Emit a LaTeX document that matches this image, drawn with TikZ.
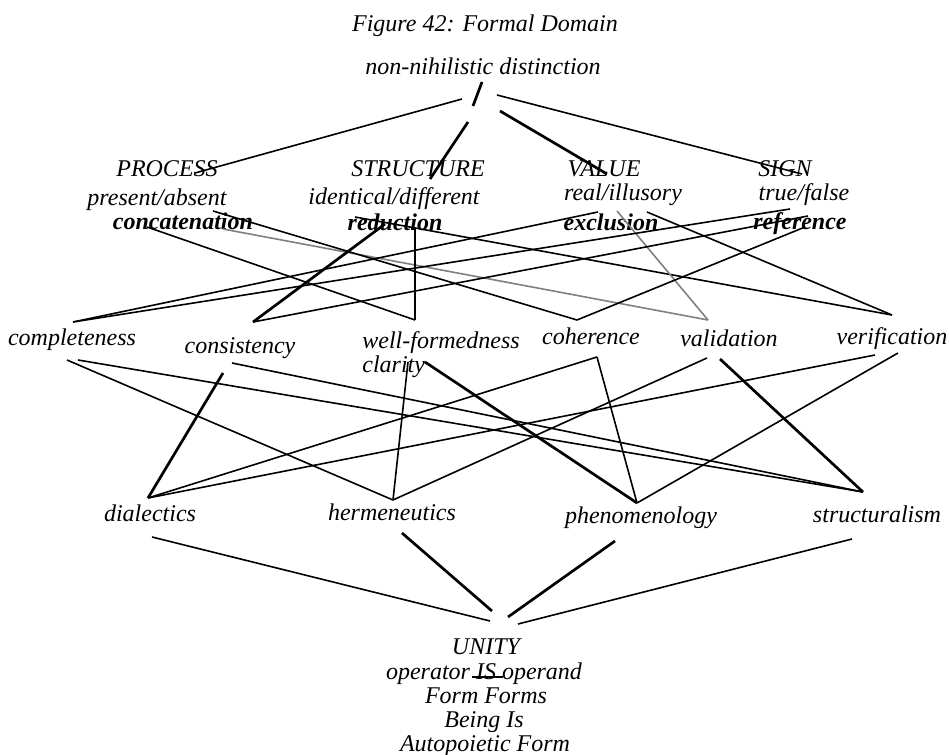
\documentclass[tikz,border=0pt]{standalone}
\usepackage{fontspec}
\setmainfont{Liberation Serif}
\begin{document}
\begin{tikzpicture}[x=0.5pt,y=-0.5pt,
  lbl/.style={inner sep=0pt, anchor=base, font=\fontsize{12}{14}\selectfont\itshape},
  lbll/.style={inner sep=0pt, anchor=base west, font=\fontsize{12}{14}\selectfont\itshape},
  bld/.style={inner sep=0pt, anchor=base, font=\fontsize{12}{14}\selectfont\bfseries\itshape},
  lnk/.style={line width=0.8pt},
  lnkb/.style={line width=1.35pt},
  lnkg/.style={line width=0.8pt, draw=black!50}]
\useasboundingbox (0,0) rectangle (949,755);

% ---- labels ----
\node[lbl] (title) at (485,32) {Figure 42: Formal Domain};
\node[lbl] (nnd) at (483,74) {non-nihilistic distinction};

\node[lbl] (process) at (167,176) {PROCESS};
\node[lbl] (structure) at (418,176) {STRUCTURE};
\node[lbl] (value) at (604,176) {VALUE};
\node[lbl] (sign) at (785,176) {SIGN};

\node[lbl] (present) at (157,205) {present/absent};
\node[lbl] (identical) at (394,204) {identical/different};
\node[lbl] (real) at (623,200) {real/illusory};
\node[lbl] (true) at (804,200) {true/false};

\node[bld] (concat) at (183,229) {concatenation};
\node[bld] (reduct) at (395,230) {reduction};
\node[bld] (exclus) at (611,230) {exclusion};
\node[bld] (refer) at (800,229) {reference};

\node[lbl] (complete) at (72,345) {completeness};
\node[lbl] (consist) at (240,353) {consistency};
\node[lbll] (wellf) at (362,348) {well-formedness};
\node[lbll] (clarity) at (362,372) {clarity};
\node[lbl] (coher) at (591,344) {coherence};
\node[lbl] (valid) at (729,346) {validation};
\node[lbl] (verif) at (892,344) {verification};

\node[lbl] (dialect) at (150,521) {dialectics};
\node[lbl] (herm) at (392,520) {hermeneutics};
\node[lbl] (phen) at (641,523) {phenomenology};
\node[lbl] (struct) at (877,522) {structuralism};

\node[lbl] (unity) at (486,654) {UNITY};
\node[lbl] (opis) at (484,679) {operator IS operand};
\node[lbl] (formf) at (486,703) {Form Forms};
\node[lbl] (beingis) at (484,727) {Being Is};
\node[lbl] (autop) at (485,751) {Autopoietic Form};

% ---- endpoints ----
\coordinate (slashA) at (482,82);  \coordinate (slashB) at (473,106);
\coordinate (d1) at (462,99);  \coordinate (procIn) at (195,173);
\coordinate (d2) at (468,122); \coordinate (strucIn) at (430,179);
\coordinate (d3) at (500,111); \coordinate (valIn) at (607,174);
\coordinate (d4) at (497,95);  \coordinate (signIn) at (802,174);

\coordinate (concA) at (147,227); \coordinate (concB) at (223,229);
\coordinate (presA) at (213,211);
\coordinate (redA) at (385,224); \coordinate (redB) at (415,228); \coordinate (redC) at (355,217);
\coordinate (exclA) at (598,212); \coordinate (realA) at (617,211); \coordinate (exclB) at (647,212);
\coordinate (trueA) at (790,209);
\coordinate (refA) at (808,216); \coordinate (refB) at (805,227);

\coordinate (compIn) at (73,322); \coordinate (consIn) at (253,322);
\coordinate (wellIn) at (415,320); \coordinate (cohIn) at (577,320);
\coordinate (valiIn) at (708,320); \coordinate (verIn) at (892,315);

\coordinate (compOutA) at (67,360); \coordinate (compOutB) at (78,360);
\coordinate (consOutA) at (232,363); \coordinate (consOutB) at (223,373);
\coordinate (clarA) at (408,362); \coordinate (clarB) at (425,362);
\coordinate (cohOut) at (597,357);
\coordinate (valiOutA) at (707,358); \coordinate (valiOutB) at (720,359);
\coordinate (verOutA) at (875,355); \coordinate (verOutB) at (898,353);

\coordinate (dialIn) at (148,498); \coordinate (hermIn) at (393,500);
\coordinate (phenIn) at (637,503); \coordinate (strIn) at (863,492);

\coordinate (dialOut) at (152,537); \coordinate (hermOut) at (402,533);
\coordinate (phenOut) at (615,541); \coordinate (strOut) at (852,539);
\coordinate (uA) at (490,621); \coordinate (uB) at (492,611);
\coordinate (uC) at (508,617); \coordinate (uD) at (518,624);

\coordinate (isA) at (472,677); \coordinate (isB) at (503,677);

% ---- top ----
\draw[lnkb] (slashA) -- (slashB);
\draw[lnk] (d1) -- (procIn);
\draw[lnkb] (d2) -- (strucIn);
\draw[lnkb] (d3) -- (valIn);
\draw[lnk] (d4) -- (signIn);

% ---- upper -> middle ----
\draw[lnk] (concA) -- (wellIn);
\draw[lnkg] (concB) -- (valiIn);
\draw[lnk] (presA) -- (cohIn);
\draw[lnkb] (redA) -- (consIn);
\draw[lnk] (redB) -- (wellIn);
\draw[lnk] (redC) -- (verIn);
\draw[lnk] (exclA) -- (compIn);
\draw[lnkg] (realA) -- (valiIn);
\draw[lnk] (exclB) -- (verIn);
\draw[lnk] (trueA) -- (compIn);
\draw[lnk] (refA) -- (consIn);
\draw[lnk] (refB) -- (cohIn);

% ---- middle -> bottom ----
\draw[lnk] (compOutA) -- (hermIn);
\draw[lnk] (compOutB) -- (strIn);
\draw[lnk] (consOutA) -- (strIn);
\draw[lnkb] (consOutB) -- (dialIn);
\draw[lnk] (clarA) -- (hermIn);
\draw[lnkb] (clarB) -- (phenIn);
\draw[lnk] (cohOut) -- (dialIn);
\draw[lnk] (cohOut) -- (phenIn);
\draw[lnk] (valiOutA) -- (hermIn);
\draw[lnkb] (valiOutB) -- (strIn);
\draw[lnk] (verOutA) -- (dialIn);
\draw[lnk] (verOutB) -- (phenIn);

% ---- bottom -> unity ----
\draw[lnk] (dialOut) -- (uA);
\draw[lnkb] (hermOut) -- (uB);
\draw[lnkb] (phenOut) -- (uC);
\draw[lnk] (strOut) -- (uD);

\draw[lnk] (isA) -- (isB);
\end{tikzpicture}
\end{document}
